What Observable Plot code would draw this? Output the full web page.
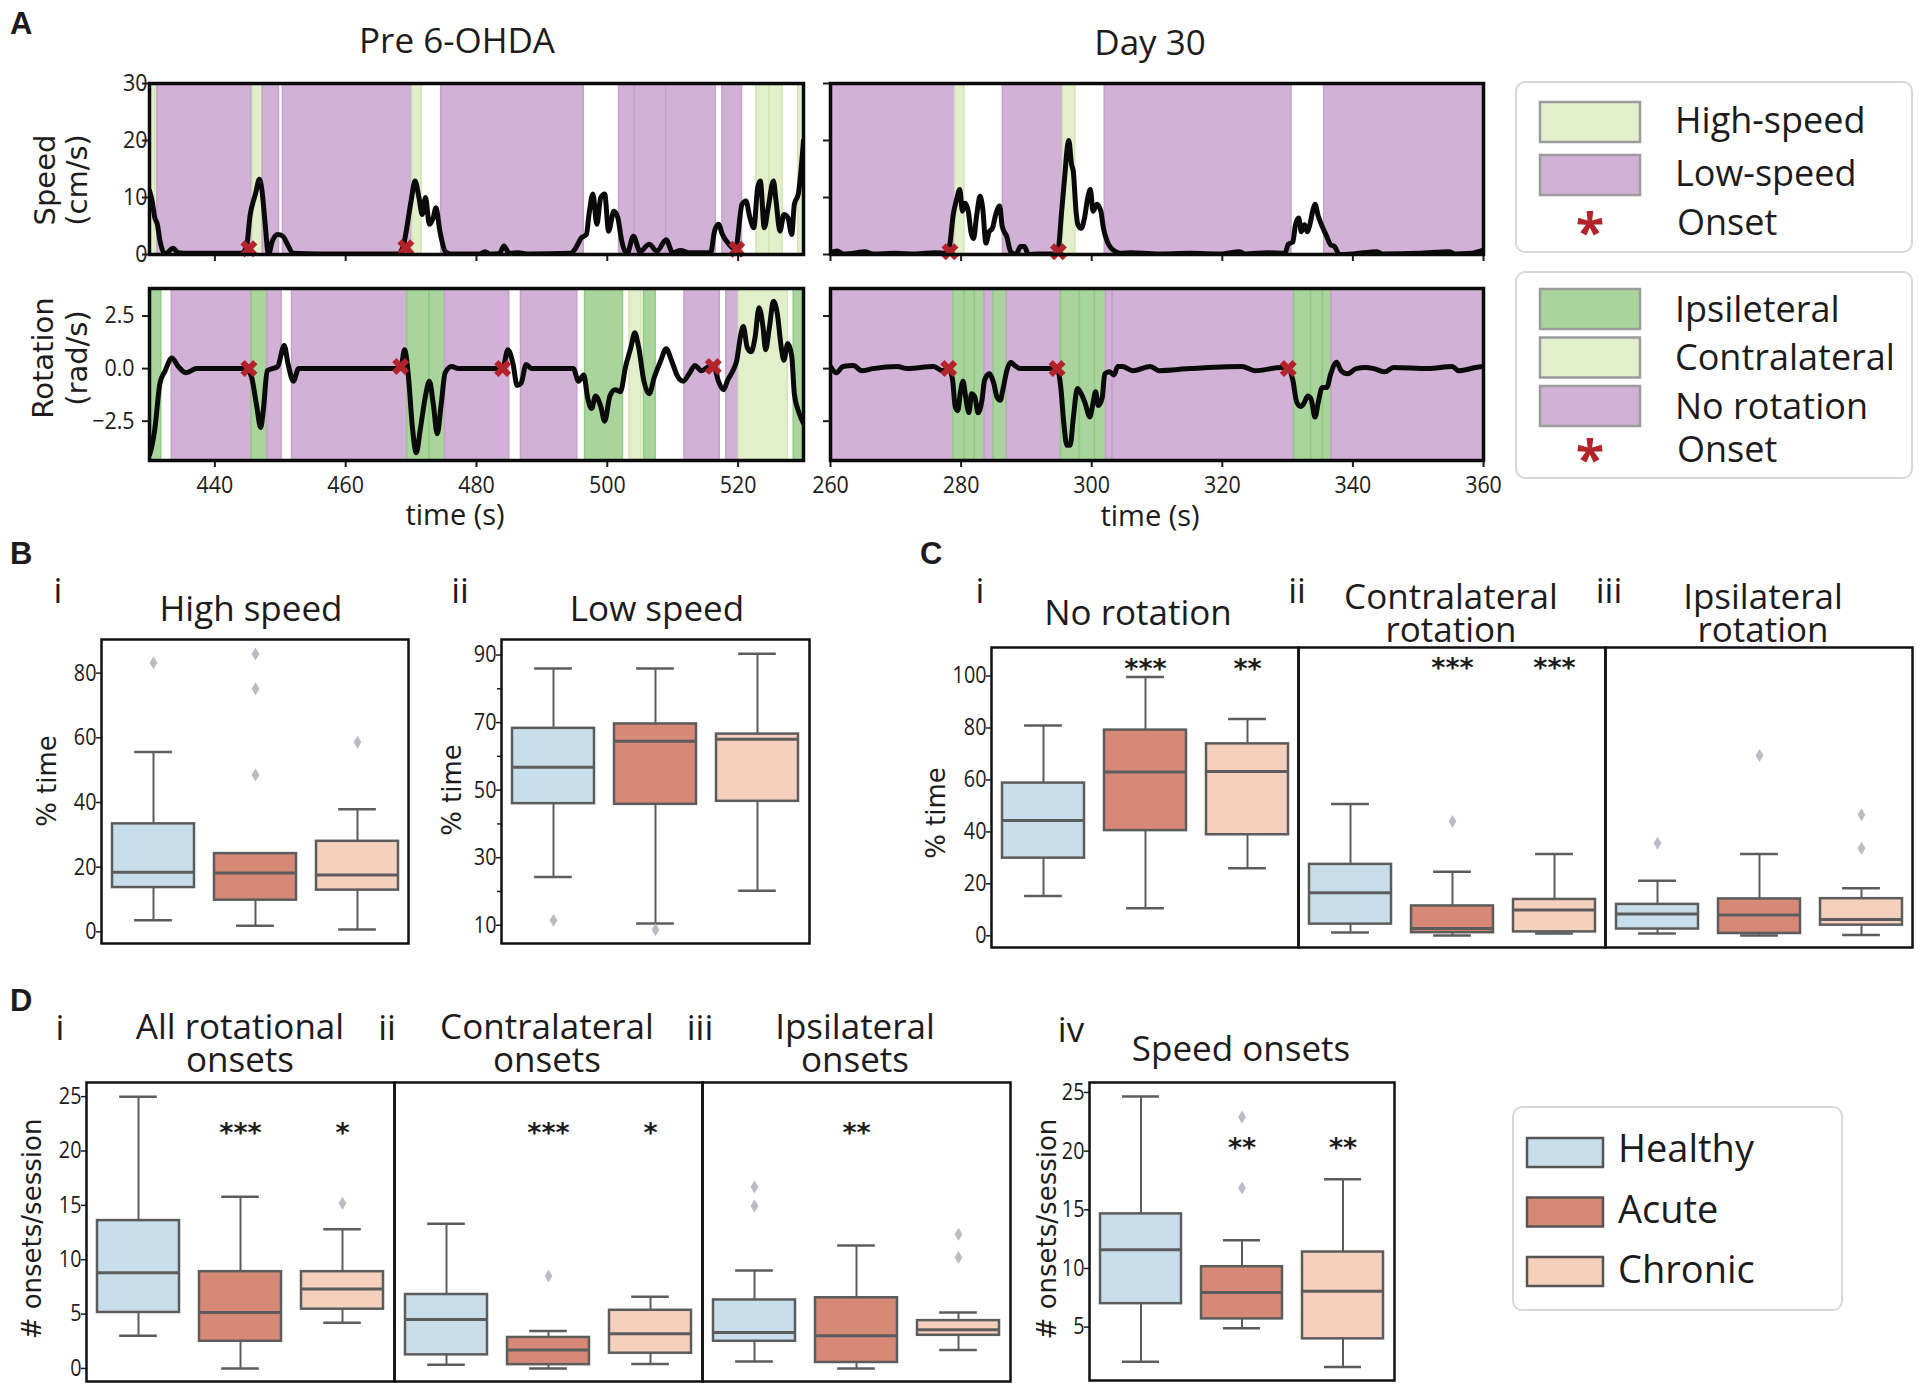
<!DOCTYPE html>
<html><head><meta charset="utf-8"><title>Figure</title>
<script src="https://cdn.jsdelivr.net/npm/d3@7"></script>
<script src="https://cdn.jsdelivr.net/npm/@observablehq/plot@0.6"></script>
<style>
html,body{margin:0;padding:0;background:#fff;}
#fig{position:relative;width:1920px;height:1388px;overflow:hidden;background:#fff;}
#fig svg{position:absolute;max-width:none;}
</style></head>
<body><div id="fig"></div>
<script>
// ---------------- DATA ----------------
// Panel A: speed / rotation traces  [time (s), value]
const preSpeed = [[430,11.2],[430.4,9.4],[430.8,6.5],[431.2,5.3],[431.6,2.4],[432.4,0.1],[433.6,1.1],[434.4,0.3],[436,0.2],[440,0.2],[444,0.2],[444.8,1.2],[445.4,7],[446.2,10.6],[446.8,13.2],[447.2,11.2],[447.6,6.5],[448.2,0.1],[448.8,2.4],[449.6,3.5],[450.4,3.2],[451,2],[452,0.2],[456,0.1],[462,0.1],[468,0.1],[468.8,1.5],[470,9.4],[470.6,12.9],[471.2,10],[471.7,7],[472.2,10],[472.8,5.3],[473.4,6.5],[473.8,8.2],[474.4,4.1],[475.2,0.6],[476,0.1],[480.5,0.1],[481.3,0.5],[482,0.1],[483.5,0.2],[484.2,1.5],[485,0.2],[486.4,0.3],[488,0.1],[494.4,0.2],[495.2,1.2],[496,2.9],[496.8,3.5],[497.2,7],[497.8,10.6],[498.4,5.3],[499,10],[499.6,10.6],[500.2,4.1],[501,7.6],[501.6,6.5],[502.2,2.4],[503,0.1],[504,3.2],[505,0.5],[506.4,1.8],[507.6,0.6],[509,2.6],[510,0.3],[511.2,0.7],[512.5,0.3],[515.8,0.3],[516.4,4.1],[517,5.3],[517.6,3.5],[518.6,1.8],[519.6,0.9],[520.6,8.8],[521.2,9.4],[521.8,6.5],[522.4,4.7],[523,11.8],[523.4,12.9],[524,4.7],[524.6,8.2],[525.4,12.9],[525.8,9.4],[526.4,4.1],[527,7],[527.6,6.5],[528.2,3.5],[528.6,8.8],[529.2,10.6],[530,20]];
const preRot = [[430,-4.1],[430.2,-3.9],[430.8,-2.9],[431.6,-0.7],[432.4,-0.1],[433.4,0.5],[434.4,0.1],[435.6,-0.2],[437.2,0],[444.8,0],[445.6,-0.4],[446.4,-1.8],[447,-2.8],[447.4,-2],[448,-0.1],[448.8,0],[449.6,0.1],[450.6,1.1],[451.2,0.2],[452,-0.6],[452.8,0],[468.4,0],[469,0.9],[469.6,-0.4],[470.2,-2.8],[470.8,-4],[471.4,-2.9],[472.2,-1.3],[472.8,-0.6],[473.4,-1.7],[474,-3.1],[474.6,-1.7],[475.2,-0.2],[476.2,0.1],[477.2,0],[484,0],[484.8,0.9],[485.6,0.2],[486.2,-0.8],[486.8,-0.7],[487.6,0.2],[488.4,0],[494.8,0],[495.6,-0.6],[496.4,-0.3],[497,-1.4],[497.6,-1.9],[498.2,-1.3],[499,-1.8],[499.6,-2.5],[500.4,-1.3],[501.2,-1],[502,-1.1],[502.8,0.1],[503.6,1],[504.2,1.7],[504.8,1],[505.6,-0.6],[506.4,-1.2],[507.2,-0.4],[508.2,0.4],[509,0.95],[509.8,0.4],[510.8,-0.4],[511.6,-0.6],[512.6,-0.2],[513.4,0.15],[514.4,-0.1],[515.6,0.1],[516.4,0],[517,-0.6],[517.8,-1],[518.4,-0.55],[519.2,-0.1],[519.8,0.4],[520.4,1.6],[520.8,2],[521.4,1],[522,0.8],[522.6,1.5],[523.2,2.9],[523.8,2],[524.2,0.9],[524.8,2],[525.4,3.2],[526,2.6],[526.6,1],[527,0.4],[527.6,1.2],[528.2,0.6],[528.6,-1.2],[529.2,-2],[530,-2.6]];
const day30Speed = [[260,0.3],[261,0.6],[262,0.1],[264,0.3],[265.2,0.5],[266.5,0.1],[270,0.2],[273,0.1],[276,0.3],[277.8,0.2],[278.3,2],[278.8,7],[279.3,9.6],[279.8,11.4],[280.2,7.6],[280.6,9],[281.1,7.6],[281.5,4],[281.9,2.8],[282.4,7],[282.9,10.2],[283.3,8.2],[283.8,2],[284.3,4],[284.8,4.6],[285.3,7],[285.9,8.5],[286.3,4.9],[287,3.1],[287.6,0.5],[288.4,0],[289.1,1.4],[289.7,1.4],[290.3,0],[292,0.1],[294.4,0.1],[294.9,1.1],[295.4,7.6],[295.9,14.1],[296.2,18.2],[296.5,20],[296.9,15.9],[297.2,14.4],[297.6,7.6],[297.9,5.2],[298.4,4.6],[298.9,6.4],[299.4,10],[299.8,11.4],[300.2,7.6],[300.8,8.8],[301.4,7.6],[301.8,4.6],[302.4,2.2],[303,1.1],[303.7,0.5],[304.4,0.2],[306,0.3],[310,0.1],[315,0.2],[320,0.1],[322.6,0.5],[323.5,0.1],[327,0.3],[329.6,0.2],[330.1,1.8],[330.8,2.2],[331.2,5.2],[331.7,6.4],[332.1,4],[332.6,5.2],[333,4],[333.4,5.2],[333.9,7.9],[334.2,8.8],[334.7,6.7],[335.2,5.2],[335.9,3.4],[336.6,1.7],[337.2,1.4],[337.9,0],[340,0.1],[343.7,0.5],[344.5,0.1],[350,0.2],[354.8,0.5],[355.6,0.1],[358,0.2],[359.5,0.6],[360,0.8]];
const day30Rot = [[260,0.1],[260.9,-0.2],[261.9,0.1],[263.5,0.15],[264.8,-0.1],[266.5,0],[270.2,0.1],[271.8,0],[275.8,0.1],[277.1,-0.1],[278.1,0],[278.7,-0.55],[279.1,-1.8],[279.5,-2],[279.9,-1.1],[280.3,-0.6],[280.7,-1.35],[281.2,-2.1],[281.6,-1.2],[282.1,-1.35],[282.6,-2.1],[283.2,-1.5],[283.6,-0.55],[284.3,-0.25],[285,-0.7],[285.5,-1.35],[286,-1.5],[286.4,-1],[287,-0.1],[287.6,0.3],[288.2,0.15],[289.1,0],[294.1,0],[294.7,0],[295.3,-1],[295.7,-2.5],[296.2,-3.65],[296.7,-3.65],[297.2,-2.3],[297.8,-0.95],[298.4,-1.2],[299,-1.65],[299.7,-2.3],[300.2,-1.65],[300.6,-1.1],[301,-1.75],[301.6,-1.4],[302,-0.25],[302.7,-0.15],[303.4,-0.3],[304,0.1],[304.7,0.1],[306.3,-0.1],[309,0.1],[310.3,-0.1],[315,0],[323,0.1],[325,-0.1],[329,0.05],[330.1,0],[330.8,-0.55],[331.4,-1.6],[332,-1.8],[332.5,-1.65],[333.1,-1.3],[333.6,-1.45],[334.2,-2.3],[334.7,-1.6],[335.3,-0.9],[336,-0.9],[336.6,-0.25],[337.5,0.3],[338.2,-0.1],[339.2,-0.25],[340.5,0],[341.9,0.05],[343.2,0],[344.9,-0.15],[346.2,0.05],[351.5,0],[355.2,0.1],[356.2,-0.1],[358.8,0.05],[360,0.1]];
// state spans [start, end, state]
const preSpeedSpans = [[430,430.9,"High-speed"],[431.2,445.6,"Low-speed"],[445.8,447.3,"High-speed"],[447.3,449.8,"Low-speed"],[450.4,470.2,"Low-speed"],[470.2,471.6,"High-speed"],[474.6,496.4,"Low-speed"],[501.8,504.2,"Low-speed"],[504.2,509.0,"Low-speed"],[509.0,516.6,"Low-speed"],[517.6,520.6,"Low-speed"],[522.8,524.8,"High-speed"],[524.8,526.8,"High-speed"],[529.2,530,"High-speed"]];
const preRotSpans = [[430,431.8,"Ipsilateral"],[433.4,445.6,"No rotation"],[445.6,448,"Ipsilateral"],[448,450.2,"No rotation"],[451.8,469.4,"No rotation"],[469.4,472.8,"Ipsilateral"],[472.8,475.2,"Ipsilateral"],[475.2,485,"No rotation"],[486.8,495.4,"No rotation"],[496.6,502.4,"Ipsilateral"],[503.4,505.2,"Contralateral"],[505.6,507.4,"Ipsilateral"],[511.8,517.2,"No rotation"],[518.2,520.1,"No rotation"],[520.1,527.6,"Contralateral"],[528.5,530,"Ipsilateral"]];
const day30SpeedSpans = [[260,279.1,"Low-speed"],[279.1,280.5,"High-speed"],[286.4,295.6,"Low-speed"],[295.6,297.5,"High-speed"],[302,330.6,"Low-speed"],[335.6,360,"Low-speed"]];
const day30RotSpans = [[260,278.8,"No rotation"],[278.8,280.5,"Ipsilateral"],[280.5,282.1,"Ipsilateral"],[282.1,283.6,"Ipsilateral"],[283.6,285,"No rotation"],[285,287,"Ipsilateral"],[287,295.3,"No rotation"],[295.3,298.2,"Ipsilateral"],[298.2,300.5,"Ipsilateral"],[300.5,302.2,"Ipsilateral"],[302.2,303.2,"No rotation"],[303.2,331,"No rotation"],[331,333.6,"Ipsilateral"],[333.6,335.4,"Ipsilateral"],[335.4,336.7,"Ipsilateral"],[336.7,360,"No rotation"]];
// onsets [time, value]
const preSpeedOnsets = [[445.2,1.0],[469.2,1.2],[519.8,0.9]];
const preRotOnsets = [[445.2,0],[468.4,0.1],[484,0],[516.2,0.1]];
const day30SpeedOnsets = [[278.3,0.5],[294.9,0.5]];
const day30RotOnsets = [[278.1,0],[294.7,0],[330.1,0]];
const preTicks = [440,460,480,500,520];
const day30Ticks = [260,280,300,320,340,360];
const speedTicks = [0,10,20,30];
const rotTicks = [-2.5,0,2.5];

// Panels B-D: boxes [whisker low, Q1, median, Q3, whisker high] for Healthy, Acute, Chronic
const groups = ["Healthy","Acute","Chronic"];
const highSpeedBox = [[3.6,13.7,18.4,33.4,55.6],[1.9,9.8,18.2,24.2,24.2],[0.7,12.9,17.6,28.0,37.9]];
const highSpeedOut = [[83.2],[85.9,75.2,48.5],[58.6]];
const lowSpeedBox = [[24.3,46.0,56.8,68.3,86.0],[10.5,45.8,64.5,69.6,86.0],[20.2,46.7,65.1,66.6,90.4]];
const lowSpeedOut = [[11.5],[8.7],[]];
const noRotBox = [[15.3,29.9,44.4,58.8,81.0],[10.6,40.5,63.1,79.2,99.6],[26.0,38.9,63.3,73.9,83.5]];
const noRotOut = [[],[],[]];
const noRotStars = ["","***","**"];
const contraRotBox = [[1.3,4.5,16.6,27.5,50.7],[0.1,1.2,2.8,11.5,24.7],[0.9,1.5,9.9,14.0,31.5]];
const contraRotOut = [[],[44.0],[]];
const contraRotStars = ["","***","***"];
const ipsiRotBox = [[0.9,2.6,8.4,12.1,21.2],[0.1,0.9,8.0,14.2,31.5],[0.3,4.1,6.3,14.3,18.3]];
const ipsiRotOut = [[35.6],[69.4],[46.6,33.7]];
const allOnsetBox = [[3.0,5.15,8.8,13.6,25.0],[0.0,2.5,5.15,8.9,15.8],[4.2,5.45,7.3,8.9,12.8]];
const allOnsetOut = [[],[],[15.2]];
const allOnsetStars = ["","***","*"];
const contraOnsetBox = [[0.35,1.25,4.5,6.8,13.3],[0.0,0.35,1.7,2.85,3.45],[0.4,1.4,3.2,5.35,6.6]];
const contraOnsetOut = [[],[8.5],[]];
const contraOnsetStars = ["","***","*"];
const ipsiOnsetBox = [[0.65,2.5,3.3,6.3,9.0],[0.0,0.55,3.0,6.5,11.3],[1.7,3.05,3.55,4.4,5.15]];
const ipsiOnsetOut = [[16.7,14.95],[],[12.35,10.2]];
const ipsiOnsetStars = ["","**",""];
const speedOnsetBox = [[2.05,7.0,11.6,14.65,24.65],[4.9,5.7,7.95,10.15,12.4],[1.6,4.0,8.05,11.4,17.6]];
const speedOnsetOut = [[],[22.9,16.85],[]];
const speedOnsetStars = ["","**","**"];
const pctTicksB1 = [0,20,40,60,80];
const pctTicksB2 = [10,30,50,70,90];
const pctMinorB2 = [20,40,60,80];
const pctTicksC = [0,20,40,60,80,100];
const onsetTicks = [0,5,10,15,20,25];
const speedOnsetTicks = [5,10,15,20,25];

// ---------------- STYLE ----------------
const SPAN_FILL = {"High-speed":"#e2efcb","Low-speed":"#d1b1d5","Ipsilateral":"#a9d59c","Contralateral":"#e2efcb","No rotation":"#d1b1d5"};
const SPAN_EDGE = {"High-speed":"#d2e5b4","Low-speed":"#c7a0cd","Ipsilateral":"#90cb84","Contralateral":"#d2e5b4","No rotation":"#c7a0cd"};
const BOX_FILL = ["#c8deeb","#d68977","#f4d0bd"];
const EDGE = "#5c5c5c";
const ONSET = "#b3232b";
const TICK_FONT = "'Open Sans','Noto Sans',sans-serif";
const TITLE_FONT = "'Open Sans','Noto Sans',sans-serif";
const LABEL_FONT = "'DejaVu Sans',sans-serif";
const INK = "#1e1b1c";

const symX = {draw(ctx, size){ const r = Math.sqrt(size/Math.PI), t = r*0.5;
  const p = [[0,-t],[r-t,-r],[r,-r+t],[t,0],[r,r-t],[r-t,r],[0,t],[-r+t,r],[-r,r-t],[-t,0],[-r,-r+t],[-r+t,-r]];
  ctx.moveTo(p[0][0],p[0][1]); for (let i=1;i<p.length;i++) ctx.lineTo(p[i][0],p[i][1]); ctx.closePath(); }};
const symDiamond = {draw(ctx, size){ const r = Math.sqrt(size/Math.PI);
  ctx.moveTo(0,-r); ctx.lineTo(r*0.6,0); ctx.lineTo(0,r); ctx.lineTo(-r*0.6,0); ctx.closePath(); }};

const fig = document.getElementById("fig");
function place(svg, left, top, squeeze){
  svg.style.left = left+"px"; svg.style.top = top+"px"; fig.appendChild(svg);
  // narrow the tick-label glyphs like the condensed face of the original
  svg.querySelectorAll('g[aria-label$="tick label"] text').forEach(t => {
    const L = t.getComputedTextLength();
    if (L > 0) { t.setAttribute("textLength", (L*squeeze).toFixed(2)); t.setAttribute("lengthAdjust", "spacingAndGlyphs"); }
  });
}

// ---------------- PANEL A ----------------
function tracePlot({spans, trace, onsets, xDomain, yDomain, xTicks, yTicks, yFmt, xLabels, yLabels, yPad, frame}){
  const [x0,y0,x1,y1] = frame;
  const mL = 64, mR = 32, mT = 16, mB = xLabels ? 50 : 16;
  const svg = Plot.plot({
    width: (x1-x0)+mL+mR, height: (y1-y0)+mT+mB,
    marginLeft: mL, marginRight: mR, marginTop: mT, marginBottom: mB,
    style: {background:"transparent", fontFamily: TICK_FONT, color: INK},
    x: {domain: xDomain}, y: {domain: yDomain},
    color: {type: "identity"},
    marks: [
      Plot.rect(spans, {x1: d=>d[0], x2: d=>d[1], fill: d=>SPAN_FILL[d[2]], stroke: d=>SPAN_EDGE[d[2]], strokeWidth: 1.5}),
      Plot.line(trace, {x: d=>d[0], y: d=>d[1], curve: "monotone-x", stroke: "#0a0a0a", strokeWidth: 5, strokeLinejoin: "round", clip: true}),
      Plot.dot(onsets, {x: d=>d[0], y: d=>d[1], symbol: symX, r: 8.5, fill: ONSET}),
      Plot.axisX({ticks: xTicks, tickSize: 7, tickPadding: 9, strokeWidth: 2, fontSize: 23, label: null, tickFormat: xLabels ? (d => String(d)) : (() => "")}),
      Plot.axisY({ticks: yTicks, tickSize: 7, tickPadding: yPad, strokeWidth: 2, fontSize: 23, label: null, tickFormat: yLabels ? yFmt : (() => "")}),
      Plot.frame({stroke: "#0a0a0a", strokeWidth: 3.5})
    ]
  });
  place(svg, x0-mL, y0-mT, 0.93);
}
const fmtInt = d => String(d);
const fmtRot = d3.format(".1f");
tracePlot({spans: preSpeedSpans, trace: preSpeed, onsets: preSpeedOnsets, xDomain: [430,530], yDomain: [0,30], xTicks: preTicks, yTicks: speedTicks, yFmt: fmtInt, xLabels: false, yLabels: true, yPad: -5, frame: [149,83,803,254]});
tracePlot({spans: preRotSpans, trace: preRot, onsets: preRotOnsets, xDomain: [430,530], yDomain: [-4.37,3.81], xTicks: preTicks, yTicks: rotTicks, yFmt: fmtRot, xLabels: true, yLabels: true, yPad: 8, frame: [149,288,803,460]});
tracePlot({spans: day30SpeedSpans, trace: day30Speed, onsets: day30SpeedOnsets, xDomain: [260,360], yDomain: [0,30], xTicks: day30Ticks, yTicks: speedTicks, yFmt: fmtInt, xLabels: false, yLabels: false, yPad: 3, frame: [830,83,1483,254]});
tracePlot({spans: day30RotSpans, trace: day30Rot, onsets: day30RotOnsets, xDomain: [260,360], yDomain: [-4.37,3.81], xTicks: day30Ticks, yTicks: rotTicks, yFmt: fmtRot, xLabels: true, yLabels: false, yPad: 3, frame: [830,288,1483,460]});

// ---------------- PANELS B-D ----------------
function boxPlot({box, out, stars, yDomain, yTicks, minor, frame, showY, starDy}){
  const [x0,y0,x1,y1] = frame;
  const mL = showY ? 60 : 3, mR = 3, mT = 14, mB = 3;
  const W = x1-x0, H = y1-y0;
  const rows = groups.map((g,i)=>({g, lo: box[i][0], q1: box[i][1], med: box[i][2], q3: box[i][3], hi: box[i][4], fill: BOX_FILL[i]}));
  const outRows = groups.flatMap((g,i)=>out[i].map(v=>({g, v})));
  const starRows = stars ? groups.map((g,i)=>({g, s: stars[i]})).filter(d=>d.s) : [];
  const capInset = (W/3)*0.8*0.27;
  const marks = [
    Plot.ruleX(rows, {x: "g", y1: "lo", y2: "q1", stroke: EDGE, strokeWidth: 2}),
    Plot.ruleX(rows, {x: "g", y1: "q3", y2: "hi", stroke: EDGE, strokeWidth: 2}),
    Plot.tickY(rows, {x: "g", y: "lo", insetLeft: capInset, insetRight: capInset, stroke: EDGE, strokeWidth: 2.5}),
    Plot.tickY(rows, {x: "g", y: "hi", insetLeft: capInset, insetRight: capInset, stroke: EDGE, strokeWidth: 2.5}),
    Plot.barY(rows, {x: "g", y1: "q1", y2: "q3", fill: "fill", stroke: EDGE, strokeWidth: 2.5}),
    Plot.tickY(rows, {x: "g", y: "med", stroke: EDGE, strokeWidth: 3}),
    Plot.dot(outRows, {x: "g", y: "v", symbol: symDiamond, r: 6.5, fill: "#b9bcc4"}),
    Plot.text(starRows, {x: "g", text: "s", frameAnchor: "top", lineAnchor: "top", dy: starDy, fontSize: 27, fontWeight: "bold", fontFamily: LABEL_FONT, fill: INK})
  ];
  if (showY) {
    marks.push(Plot.axisY({ticks: yTicks, tickSize: 5, tickPadding: 0, strokeWidth: 1.5, fontSize: 23, label: null}));
    if (minor) marks.push(Plot.axisY({ticks: minor, tickSize: 4, strokeWidth: 1.5, tickFormat: () => "", label: null}));
  }
  marks.push(Plot.frame({stroke: "#111", strokeWidth: 2.5}));
  const svg = Plot.plot({
    width: W+mL+mR, height: H+mT+mB,
    marginLeft: mL, marginRight: mR, marginTop: mT, marginBottom: mB,
    style: {background: "transparent", fontFamily: TICK_FONT, color: INK},
    x: {type: "band", domain: groups, paddingInner: 0.2, paddingOuter: 0.1, axis: null},
    y: showY ? {domain: yDomain} : {domain: yDomain, axis: null},
    color: {type: "identity"},
    marks
  });
  place(svg, x0-mL, y0-mT, 0.86);
}
// B
boxPlot({box: highSpeedBox, out: highSpeedOut, yDomain: [-3.6,90.4], yTicks: pctTicksB1, frame: [101,639,408,943], showY: true});
boxPlot({box: lowSpeedBox, out: lowSpeedOut, yDomain: [4.6,94.6], yTicks: pctTicksB2, minor: pctMinorB2, frame: [501,639,809,943], showY: true});
// C
boxPlot({box: noRotBox, out: noRotOut, stars: noRotStars, starDy: 11, yDomain: [-4.5,111], yTicks: pctTicksC, frame: [991,647,1298,947], showY: true});
boxPlot({box: contraRotBox, out: contraRotOut, stars: contraRotStars, starDy: 10, yDomain: [-4.5,111], frame: [1298,647,1605,947], showY: false});
boxPlot({box: ipsiRotBox, out: ipsiRotOut, yDomain: [-4.5,111], frame: [1605,647,1912,947], showY: false});
// D
boxPlot({box: allOnsetBox, out: allOnsetOut, stars: allOnsetStars, starDy: 40, yDomain: [-1.2,26.3], yTicks: onsetTicks, frame: [86,1082,394,1381], showY: true});
boxPlot({box: contraOnsetBox, out: contraOnsetOut, stars: contraOnsetStars, starDy: 40, yDomain: [-1.2,26.3], frame: [394,1082,702,1381], showY: false});
boxPlot({box: ipsiOnsetBox, out: ipsiOnsetOut, stars: ipsiOnsetStars, starDy: 40, yDomain: [-1.2,26.3], frame: [702,1082,1010,1381], showY: false});
boxPlot({box: speedOnsetBox, out: speedOnsetOut, stars: speedOnsetStars, starDy: 55, yDomain: [0.45,25.85], yTicks: speedOnsetTicks, frame: [1089,1082,1394,1380], showY: true});

// ---------------- TEXT, LABELS, LEGENDS ----------------
const ov = d3.create("svg").attr("width",1920).attr("height",1388).style("left","0px").style("top","0px").style("pointer-events","none");
function txt(x, y, s, o = {}){
  const t = ov.append("text").attr("x",x).attr("y",y)
    .attr("font-family", o.family || TITLE_FONT).attr("font-size", o.size || 35)
    .attr("font-weight", o.weight || "normal").attr("fill", o.fill || INK)
    .attr("text-anchor", o.anchor || "middle");
  if (Array.isArray(s)) {
    s.forEach((line, i) => t.append("tspan").attr("x", x).attr("dy", i ? (o.lead || 33) : 0).text(line));
  } else t.text(s);
  if (o.rotate) t.attr("transform", `rotate(-90,${x},${y})`).attr("dominant-baseline","central");
  if (o.central) t.attr("dominant-baseline","central");
  return t;
}
// panel letters
[["A",10,34],["B",10,564],["C",920,564],["D",10,1011]].forEach(([s,x,y]) => txt(x,y,s,{family:"'Liberation Sans',sans-serif", weight:"bold", size:31, anchor:"start"}));
// A titles & labels
txt(457,53,"Pre 6-OHDA");
txt(1150,55,"Day 30");
txt(45,180,"Speed",{family:LABEL_FONT,size:29,rotate:true});
txt(77,180,"(cm/s)",{family:LABEL_FONT,size:29,rotate:true});
txt(43,358,"Rotation",{family:LABEL_FONT,size:29,rotate:true});
txt(77,358,"(rad/s)",{family:LABEL_FONT,size:29,rotate:true});
txt(455,513,"time (s)",{size:29,central:true});
txt(1150,514,"time (s)",{size:29,central:true});
// B titles
txt(58,603,"i"); txt(251,621,"High speed");
txt(460,603,"ii"); txt(657,621,"Low speed");
txt(47,781,"% time",{family:LABEL_FONT,size:26,rotate:true});
txt(452,790,"% time",{family:LABEL_FONT,size:26,rotate:true});
// C titles
txt(980,603,"i"); txt(1138,625,"No rotation");
txt(1297,603,"ii"); txt(1451,609,["Contralateral","rotation"]);
txt(1609,603,"iii"); txt(1763,609,["Ipsilateral","rotation"]);
txt(936,813,"% time",{family:LABEL_FONT,size:26,rotate:true});
// D titles
txt(60,1040,"i"); txt(240,1039,["All rotational","onsets"]);
txt(387,1040,"ii"); txt(547,1039,["Contralateral","onsets"]);
txt(700,1040,"iii"); txt(855,1039,["Ipsilateral","onsets"]);
txt(1071,1042,"iv"); txt(1241,1061,"Speed onsets");
txt(32,1229,"# onsets/session",{family:LABEL_FONT,size:26,rotate:true});
txt(1047,1229,"# onsets/session",{family:LABEL_FONT,size:26,rotate:true});

// legends
function legendBox(x0,y0,x1,y1){ ov.append("rect").attr("x",x0).attr("y",y0).attr("width",x1-x0).attr("height",y1-y0).attr("rx",9).attr("fill","#fff").attr("stroke","#d8d8d8").attr("stroke-width",2); }
function swatch(x,y,w,h,fill,stroke){ ov.append("rect").attr("x",x).attr("y",y).attr("width",w).attr("height",h).attr("fill",fill).attr("stroke",stroke).attr("stroke-width",2.5); }
const speedLegend = [["High-speed",133],["Low-speed",186]];
const rotLegend = [["Ipsilateral",322,"Ipsileteral"],["Contralateral",370,"Contralateral"],["No rotation",419,"No rotation"]];
legendBox(1516,82,1912,252);
speedLegend.forEach(([k,y],i) => { swatch(1540,102+i*53,100,40,SPAN_FILL[k],"#9c9c9c"); txt(1675,y,k,{anchor:"start",size:36}); });
txt(1590,251,"*",{size:52,weight:"bold",fill:ONSET}); txt(1677,235,"Onset",{anchor:"start",size:36});
legendBox(1516,272,1912,478);
rotLegend.forEach(([k,y,label],i) => { swatch(1540,289+i*48.5,100,40,SPAN_FILL[k],"#9c9c9c"); txt(1675,y,label,{anchor:"start",size:36}); });
txt(1590,478,"*",{size:52,weight:"bold",fill:ONSET}); txt(1677,462,"Onset",{anchor:"start",size:36});
legendBox(1513,1107,1842,1310);
groups.forEach((g,i) => { swatch(1527,1138+i*59.5,76,29,BOX_FILL[i],"#555"); txt(1618,1162+i*60.5,g,{anchor:"start",size:38}); });

fig.appendChild(ov.node());
</script></body></html>
